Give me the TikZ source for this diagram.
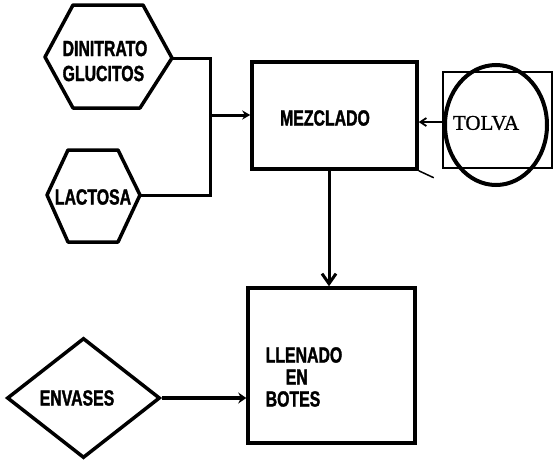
\documentclass[tikz,border=0pt]{standalone}
\usepackage{fontspec}
\usetikzlibrary{shapes.geometric,arrows.meta}
\newfontfamily\labfont{Liberation Sans}[FakeStretch=0.72,FakeBold=1.5]
\newfontfamily\tolvafont{Liberation Serif}[FakeBold=1]
\begin{document}
\begin{tikzpicture}[x=1pt,y=-1pt,
  lab/.style={font=\labfont\bfseries\fontsize{22}{26}\selectfont, inner sep=0pt},
  procbox/.style={draw, line width=3.5pt, inner sep=0pt},
  shapeline/.style={line width=3.5pt, line join=round},
  conn/.style={line width=3pt},
  tip/.style={-{Stealth[length=8pt,width=9pt]}}]
\useasboundingbox (0,0) rectangle (560,461);

% hexagon DINITRATO GLUCITOS
\coordinate (h1w) at (45,57);
\coordinate (h1e) at (172,58);
\draw[shapeline] (h1w) -- (73,5) -- (143,5) -- (h1e) -- (140,108) -- (73,108) -- cycle;
\node[lab, align=left, anchor=center] (dinitrato) at (105,61) {DINITRATO\\[-1pt]GLUCITOS};

% hexagon LACTOSA
\coordinate (h2w) at (47,195);
\coordinate (h2e) at (140,195);
\draw[shapeline] (h2w) -- (68,150) -- (118,150) -- (h2e) -- (118,242) -- (68,242) -- cycle;
\node[lab] (lactosa) at (93,197) {LACTOSA};

% MEZCLADO box
\node[procbox, minimum width=165pt, minimum height=107pt] (mezclado) at (334.5,115.5) {};
\node[lab] (mezcladotxt) at (325,118) {MEZCLADO};
\draw[line width=1.5pt] (mezclado.south east) -- ++(15,7);

% TOLVA
\node[draw, line width=2.5pt, minimum width=109pt, minimum height=96pt, inner sep=0pt] (tolvasq) at (497.5,120) {};
\draw[line width=4pt] (496,125) ellipse [x radius=51, y radius=60];
\node[font=\tolvafont\fontsize{21}{24}\selectfont, inner sep=0pt] (tolva) at (486,123) {TOLVA};

% LLENADO EN BOTES box
\node[procbox, minimum width=167pt, minimum height=155pt] (llenado) at (331.5,365.5) {};
\node[lab, align=left, anchor=center, font=\labfont\bfseries\fontsize{22}{23}\selectfont] (llenadotxt) at (304,377) {LLENADO\\[-1pt]\hspace*{20pt}EN\\[-1pt]BOTES};

% ENVASES diamond
\node[diamond, draw, line width=3.5pt, minimum width=153pt, minimum height=120pt, inner sep=0pt] (envases) at (83.5,398) {};
\node[lab] (envasestxt) at (77,398) {ENVASES};

% connectors
\coordinate (jtop) at (210,58);
\coordinate (jbot) at (210,195);
\coordinate (jmid) at (210,115);
\draw[conn, line join=miter] (h1e) -- (jtop) -- (jbot) -- (h2e);
\draw[conn, tip] (jmid) -- (jmid -| mezclado.west);
\draw[line width=1.8pt, -{Straight Barb[length=6pt,width=8pt]}] (tolvasq.west |- 0,122) -- (mezclado.east |- 0,122);
\draw[conn, -{Straight Barb[length=10pt,width=14pt]}] (mezclado.south -| 329,0) -- (llenado.north -| 329,0);
\draw[line width=4.5pt, -{Stealth[length=8pt,width=11pt]}] (envases.east) -- (envases.east -| llenado.west);
\end{tikzpicture}
\end{document}
